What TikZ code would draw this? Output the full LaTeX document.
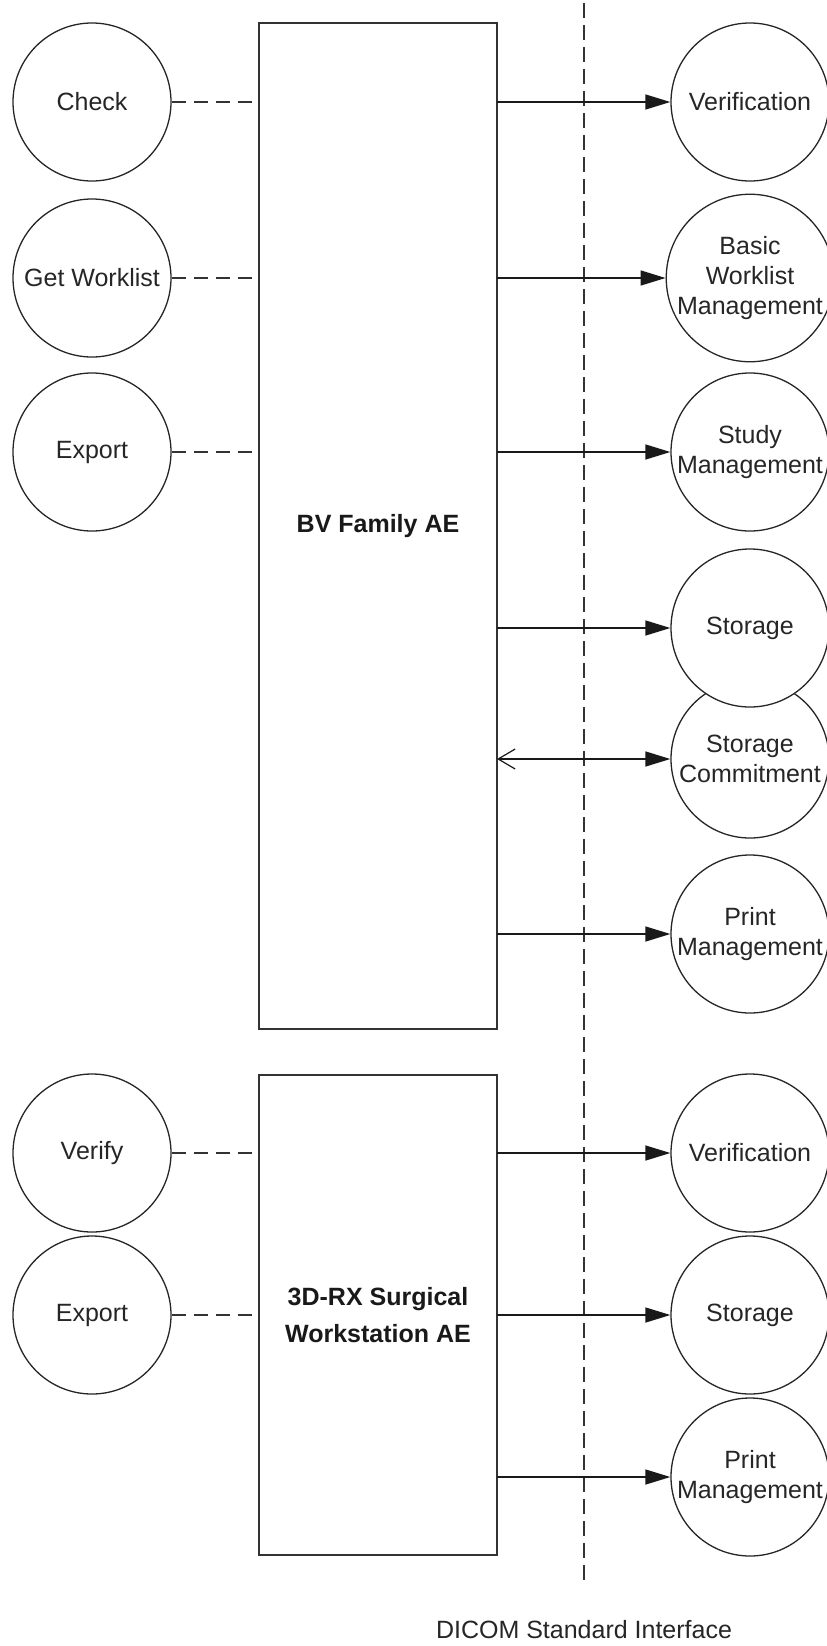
\documentclass[tikz,border=0pt]{standalone}
\usepackage{fontspec}
\setmainfont{Liberation Sans}
\usetikzlibrary{arrows.meta}
\begin{document}
\begin{tikzpicture}[x=1pt,y=-1pt,
  svc/.style={circle,draw=black!85,line width=1.3pt,fill=white,minimum size=158pt,inner sep=0pt,align=center,font=\fontsize{25}{30}\selectfont,text=black!85},
  aebox/.style={draw=black!80,line width=1.5pt,fill=white},
  aetext/.style={font=\fontsize{25}{37}\selectfont\bfseries,align=center,text=black!90},
  arr/.style={line width=1.4pt,draw=black!90,-{Triangle[length=25pt,width=15pt]}},
  biarr/.style={line width=1.4pt,draw=black!90,{Straight Barb[length=17pt,width=20pt,line width=1.2pt]}-{Triangle[length=25pt,width=15pt]}},
  dashlink/.style={line width=1.4pt,draw=black!80,dash pattern=on 14pt off 8pt},
  divider/.style={line width=1.4pt,draw=black!80,dash pattern=on 15pt off 7pt}]
\useasboundingbox (0,0) rectangle (827,1646);
% boxes
\draw[aebox] (259,23) rectangle (497,1029);
\node[aetext] (bv) at (378,526) {BV Family AE};
\coordinate (bvw) at (259,526);
\coordinate (bve) at (497,526);
\draw[aebox] (259,1075) rectangle (497,1555);
\node[aetext] (rx) at (378,1315) {3D-RX Surgical\\Workstation AE};
\coordinate (rxw) at (259,1315);
\coordinate (rxe) at (497,1315);
% divider
\coordinate (dtop) at (584,3);
\coordinate (dbot) at (584,1583);
\draw[divider] (dtop) -- (dbot);
\node[font=\fontsize{25}{30}\selectfont,text=black!85] (dicom) at (584,1630) {DICOM Standard Interface};
% left circles
\node[svc] (check) at (92,102) {Check};
\node[svc] (getwl) at (92,278) {Get Worklist};
\node[svc] (export1) at (92,452) {Export};
\node[svc] (verify) at (92,1153) {Verify};
\node[svc] (export2) at (92,1315) {Export};
% right circles
\node[svc] (ver1) at (750,102) {Verification};
\node[svc] (bwm) at (750,278) {Basic\\Worklist\\Management};
\node[svc] (study) at (750,452) {Study\\Management};
\node[svc] (stc) at (750,759) {Storage\\Commitment};
\node[svc] (sto1) at (750,628) {Storage};
\node[svc] (print1) at (750,934) {Print\\Management};
\node[svc] (ver2) at (750,1153) {Verification};
\node[svc] (sto2) at (750,1315) {Storage};
\node[svc] (print2) at (750,1477) {Print\\Management};
% dashed links
\draw[dashlink] (check) -- (check -| bvw);
\draw[dashlink] (getwl) -- (getwl -| bvw);
\draw[dashlink] (export1) -- (export1 -| bvw);
\draw[dashlink] (verify) -- (verify -| rxw);
\draw[dashlink] (export2) -- (export2 -| rxw);
% arrows
\draw[arr] (ver1 -| bve) -- (ver1);
\draw[arr] (bwm -| bve) -- (bwm);
\draw[arr] (study -| bve) -- (study);
\draw[arr] (sto1 -| bve) -- (sto1);
\draw[biarr] (stc -| bve) -- (stc);
\draw[arr] (print1 -| bve) -- (print1);
\draw[arr] (ver2 -| rxe) -- (ver2);
\draw[arr] (sto2 -| rxe) -- (sto2);
\draw[arr] (print2 -| rxe) -- (print2);
\end{tikzpicture}
\end{document}
